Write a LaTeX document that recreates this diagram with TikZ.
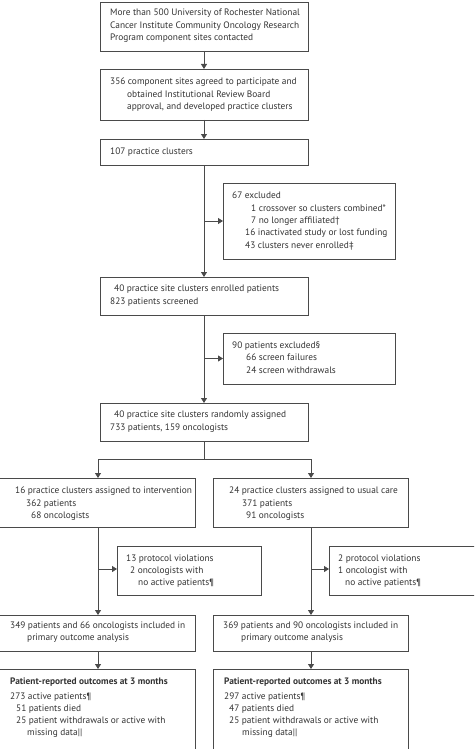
\documentclass[tikz,border=0pt]{standalone}
\usepackage{fontspec}
\setmainfont{PT Sans}
\usetikzlibrary{arrows.meta}
\definecolor{ink}{HTML}{333333}
\definecolor{frame}{HTML}{4A4A4A}
\tikzset{
  box/.style={draw=frame, line width=0.9pt, fill=white, inner sep=0, outer sep=0},
  txt/.style={anchor=west, inner sep=0, text height=7pt, text depth=2.1pt, text=ink,
    font=\fontsize{9.35}{11}\selectfont},
  bt/.style={txt, font=\fontsize{9.35}{11}\selectfont\bfseries},
  arr/.style={draw=frame, line width=0.9pt, -{Triangle[length=5pt,width=6pt]}},
  ln/.style={draw=frame, line width=0.9pt}
}
\begin{document}
\begin{tikzpicture}[x=1pt,y=-1pt]
\useasboundingbox (0,0) rectangle (474,749);
\clip (0,0) rectangle (474,749);
% boxes
\node[box, minimum width=208pt, minimum height=49pt] (b1) at (204,26.5) {};
\node[box, minimum width=208pt, minimum height=51pt] (b2) at (204,94.5) {};
\node[box, minimum width=208pt, minimum height=26pt] (b3) at (204,152) {};
\node[box, minimum width=172pt, minimum height=76pt] (e1) at (309,221) {};
\node[box, minimum width=208pt, minimum height=38pt] (b4) at (204,296) {};
\node[box, minimum width=172pt, minimum height=51pt] (e2) at (309,358.5) {};
\node[box, minimum width=208pt, minimum height=38pt] (b5) at (204,422) {};
\node[box, minimum width=205pt, minimum height=49pt] (l1) at (92.5,502.5) {};
\node[box, minimum width=195pt, minimum height=49pt] (r1) at (310.5,502.5) {};
\node[box, minimum width=144pt, minimum height=49pt] (le) at (189,570.5) {};
\node[box, minimum width=156pt, minimum height=49pt] (re) at (407,570.5) {};
\node[box, minimum width=205pt, minimum height=36pt] (l2) at (92.5,633) {};
\node[box, minimum width=195pt, minimum height=36pt] (r2) at (310.5,633) {};
\node[box, minimum width=205pt, minimum height=92pt] (l3) at (92.5,715) {};
\node[box, minimum width=195pt, minimum height=92pt] (r3) at (310.5,715) {};
% connectors
\draw[arr] (b1.south) -- (b2.north);
\draw[arr] (b2.south) -- (b3.north);
\draw[arr] (b3.south) -- (b4.north);
\coordinate (j1) at (b3.south |- e1.west);
\draw[arr] (j1) -- (e1.west);
\draw[arr] (b4.south) -- (b5.north);
\coordinate (j2) at (b4.south |- e2.west);
\draw[arr] (j2) -- (e2.west);
\coordinate (s0) at (204,459);
\coordinate (sL) at (98,459);
\coordinate (sR) at (311,459);
\draw[ln] (b5.south) -- (s0);
\draw[ln] (sL) -- (sR);
\draw[arr] (sL) -- (sL |- l1.north);
\draw[arr] (sR) -- (sR |- r1.north);
\coordinate (lt) at (98,527);
\coordinate (rt) at (311,527);
\draw[arr] (lt) -- (lt |- l2.north);
\draw[arr] (rt) -- (rt |- r2.north);
\coordinate (jl) at (98,569);
\coordinate (jr) at (311,569);
\draw[arr] (jl) -- (jl -| le.west);
\draw[arr] (jr) -- (jr -| re.west);
\coordinate (lb) at (98,651);
\coordinate (rb) at (311,651);
\draw[arr] (lb) -- (lb |- l3.north);
\draw[arr] (rb) -- (rb |- r3.north);
% texts
\node[txt] (t1) at (110,13) {More than 500 University of Rochester National};
\node[txt] (t2) at (110,26) {Cancer Institute Community Oncology Research};
\node[txt] (t3) at (110,38) {Program component sites contacted};
\node[txt] (t4) at (110,82) {356 component sites agreed to participate and};
\node[txt] (t5) at (127,95) {obtained Institutional Review Board};
\node[txt] (t6) at (127,107) {approval, and developed practice clusters};
\node[txt] (t7) at (110,152) {107 practice clusters};
\node[txt] (t8) at (232,196) {67 excluded};
\node[txt] (t9) at (251,209) {1 crossover so clusters combined*};
\node[txt] (t10) at (251,221) {7 no longer affiliated†};
\node[txt] (t11) at (245,233) {16 inactivated study or lost funding};
\node[txt] (t12) at (245,246) {43 clusters never enrolled‡};
\node[txt] (t13) at (114,289) {40 practice site clusters enrolled patients};
\node[txt] (t14) at (110,302) {823 patients screened};
\node[txt] (t15) at (232,346) {90 patients excluded§};
\node[txt] (t16) at (246,358) {66 screen failures};
\node[txt] (t17) at (246,371) {24 screen withdrawals};
\node[txt] (t18) at (114,415) {40 practice site clusters randomly assigned};
\node[txt] (t19) at (110,428) {733 patients, 159 oncologists};
\node[txt] (t20) at (15,491) {16 practice clusters assigned to intervention};
\node[txt] (t21) at (26,504) {362 patients};
\node[txt] (t22) at (31,516) {68 oncologists};
\node[txt] (t23) at (229,491) {24 practice clusters assigned to usual care};
\node[txt] (t24) at (242,504) {371 patients};
\node[txt] (t25) at (246,516) {91 oncologists};
\node[txt] (t26) at (126,559) {13 protocol violations};
\node[txt] (t27) at (130,571) {2 oncologists with};
\node[txt] (t28) at (138,583) {no active patients¶};
\node[txt] (t29) at (338,559) {2 protocol violations};
\node[txt] (t30) at (338,571) {1 oncologist with};
\node[txt] (t31) at (345,583) {no active patients¶};
\node[txt] (t32) at (10,626) {349 patients and 66 oncologists included in};
\node[txt] (t33) at (27,638) {primary outcome analysis};
\node[txt] (t34) at (223,626) {369 patients and 90 oncologists included in};
\node[txt] (t35) at (241,638) {primary outcome analysis};
\node[bt] (t36) at (10,682) {Patient-reported outcomes at 3 months};
\node[txt] (t37) at (10,697) {273 active patients¶};
\node[txt] (t38) at (16,709) {51 patients died};
\node[txt] (t39) at (16,721) {25 patient withdrawals or active with};
\node[txt] (t40) at (27,733) {missing data||};
\node[bt] (t41) at (224,682) {Patient-reported outcomes at 3 months};
\node[txt] (t42) at (224,697) {297 active patients¶};
\node[txt] (t43) at (229,709) {47 patients died};
\node[txt] (t44) at (229,721) {25 patient withdrawals or active with};
\node[txt] (t45) at (242,733) {missing data||};
\end{tikzpicture}
\end{document}
